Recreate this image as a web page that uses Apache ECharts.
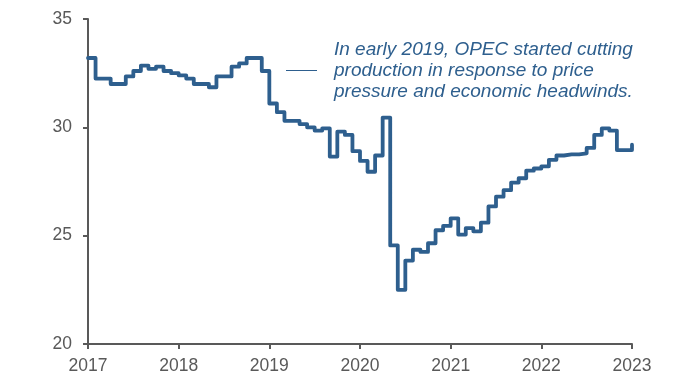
<!DOCTYPE html>
<html>
<head>
<meta charset="utf-8">
<style>
  html, body { margin: 0; padding: 0; background: #ffffff; }
  #chart { width: 674px; height: 375px; }
</style>
<script src="https://cdn.jsdelivr.net/npm/echarts@6/dist/echarts.min.js"></script>
</head>
<body>
<div id="chart"></div>
<script>
// monthly values, Jan 2017 .. Dec 2022
const startYear = 2017;
const values2017 = [33.2, 32.25, 32.25, 32.0, 32.0, 32.35, 32.6, 32.85, 32.7, 32.8, 32.6, 32.5];
const values2018 = [32.4, 32.25, 32.0, 32.0, 31.85, 32.35, 32.35, 32.8, 32.95, 33.2, 33.2, 32.6];
const values2019 = [31.1, 30.7, 30.3, 30.3, 30.15, 30.0, 29.85, 29.95, 28.65, 29.8, 29.65, 28.9];
const values2020 = [28.45, 27.95, 28.7, 30.45, 24.55, 22.5, 23.85, 24.35, 24.25, 24.65, 25.25, 25.45];
const values2021 = [25.8, 25.05, 25.35, 25.2, 25.6, 26.35, 26.8, 27.1, 27.45, 27.65, 28.0, 28.1];
const values2022 = [28.2, 28.5, 28.7, 28.75, 28.75, 28.8, 29.05, 29.65, 29.95, 29.85, 28.95, 28.95];
const lastValue = 29.2; // Jan 2023

const yTicks = [20, 25, 30, 35];
const xTicks = [2017, 2018, 2019, 2020, 2021, 2022, 2023];
const note = [
  "In early 2019, OPEC started cutting",
  "production in response to price",
  "pressure and economic headwinds."
];

const allValues = [].concat(values2017, values2018, values2019, values2020, values2021, values2022, [lastValue]);
const data = allValues.map((v, i) => [startYear + i / 12, v]);

const blue = "#2e5f8e";
const grey = "#595959";

const chart = echarts.init(document.getElementById("chart"));
chart.setOption({
  animation: false,
  grid: { left: 88, right: 42, top: 19, bottom: 31 },
  xAxis: {
    type: "value",
    min: xTicks[0],
    max: xTicks[xTicks.length - 1],
    interval: 1,
    axisLine: { show: true, lineStyle: { color: grey, width: 2 } },
    axisTick: { show: true, length: 5, lineStyle: { color: grey, width: 2 } },
    axisLabel: {
      color: grey, fontSize: 17.5, fontFamily: "Liberation Sans", margin: 13,
      formatter: (v) => String(v)
    },
    splitLine: { show: false }
  },
  yAxis: {
    type: "value",
    min: yTicks[0],
    max: yTicks[yTicks.length - 1],
    interval: 5,
    axisLine: { show: true, lineStyle: { color: grey, width: 2 } },
    axisTick: { show: true, length: 5, lineStyle: { color: grey, width: 2 } },
    axisLabel: { color: grey, fontSize: 17.5, fontFamily: "Liberation Sans", margin: 16 },
    splitLine: { show: false }
  },
  series: [{
    type: "line",
    step: "end",
    data: data,
    showSymbol: false,
    lineStyle: { color: blue, width: 3.8, cap: "round", join: "round" }
  }],
  graphic: [
    {
      type: "line",
      shape: { x1: 286, y1: 70.5, x2: 317, y2: 70.5 },
      style: { stroke: blue, lineWidth: 1 }
    },
    {
      type: "text",
      x: 334,
      y: 39,
      style: {
        text: note.join("\n"),
        fill: blue,
        font: "italic 19px 'Liberation Sans'",
        lineHeight: 21,
        verticalAlign: "top"
      }
    }
  ]
});
</script>
</body>
</html>
